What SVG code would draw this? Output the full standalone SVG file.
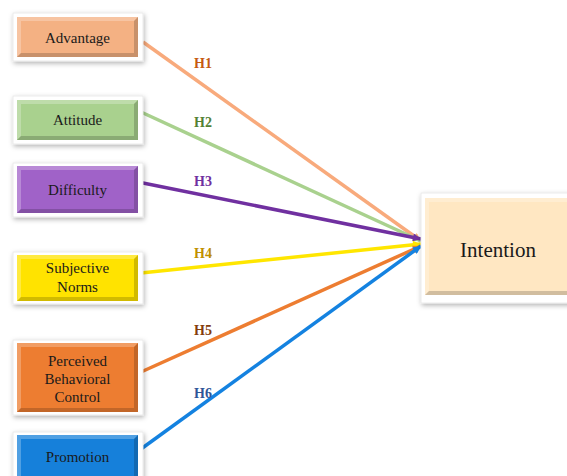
<svg xmlns="http://www.w3.org/2000/svg" width="567" height="476" viewBox="0 0 567 476">
<defs>
<filter id="sh" x="-20%" y="-20%" width="140%" height="150%">
<feDropShadow dx="1" dy="2" stdDeviation="2.5" flood-color="#000" flood-opacity="0.3"/>
</filter>
<marker id="m1" viewBox="0 0 10 10" refX="10" refY="5" markerWidth="9" markerHeight="8" markerUnits="userSpaceOnUse" orient="auto"><path d="M0,0L10,5L0,10z" fill="#F8AA7C"/></marker>
<marker id="m2" viewBox="0 0 10 10" refX="10" refY="5" markerWidth="9" markerHeight="8" markerUnits="userSpaceOnUse" orient="auto"><path d="M0,0L10,5L0,10z" fill="#A9D18E"/></marker>
<marker id="m3" viewBox="0 0 10 10" refX="10" refY="5" markerWidth="9" markerHeight="8" markerUnits="userSpaceOnUse" orient="auto"><path d="M0,0L10,5L0,10z" fill="#7030A0"/></marker>
<marker id="m4" viewBox="0 0 10 10" refX="10" refY="5" markerWidth="9" markerHeight="8" markerUnits="userSpaceOnUse" orient="auto"><path d="M0,0L10,5L0,10z" fill="#FFE600"/></marker>
<marker id="m5" viewBox="0 0 10 10" refX="10" refY="5" markerWidth="9" markerHeight="8" markerUnits="userSpaceOnUse" orient="auto"><path d="M0,0L10,5L0,10z" fill="#ED7D31"/></marker>
<marker id="m6" viewBox="0 0 10 10" refX="10" refY="5" markerWidth="9" markerHeight="8" markerUnits="userSpaceOnUse" orient="auto"><path d="M0,0L10,5L0,10z" fill="#1482E0"/></marker>
</defs>
<style>
.frame{fill:#fff;stroke:#e6e6e6;stroke-width:0.8;filter:url(#sh)}
.hi{fill:#fff;fill-opacity:0.25}
.lo{fill:#000;fill-opacity:0.18}
.t{font-family:"Liberation Serif","Times New Roman",serif;font-size:15px;fill:#1a1a1a;text-anchor:middle}
.ti{font-family:"Liberation Serif","Times New Roman",serif;font-size:21px;fill:#1a1a1a;text-anchor:middle}
.h{font-family:"Liberation Serif","Times New Roman",serif;font-size:14px;font-weight:bold}
.c{fill:none;stroke-width:3.5}
</style>

<g id="connectors">
<line class="c" x1="143" y1="42" x2="421" y2="241" stroke="#F8AA7C" marker-end="url(#m1)"/>
<line class="c" x1="141" y1="112" x2="421" y2="241" stroke="#A9D18E" marker-end="url(#m2)"/>
<line class="c" x1="138" y1="182" x2="421" y2="239" stroke="#7030A0" marker-end="url(#m3)"/>
<line class="c" x1="141" y1="273" x2="421" y2="244" stroke="#FFE600" marker-end="url(#m4)"/>
<line class="c" x1="141" y1="372" x2="421" y2="246" stroke="#ED7D31" marker-end="url(#m5)"/>
<line class="c" x1="141" y1="449" x2="421" y2="246" stroke="#1482E0" marker-end="url(#m6)"/>
<text class="h" x="194" y="68" fill="#C55A11">H1</text>
<text class="h" x="194" y="127" fill="#538135">H2</text>
<text class="h" x="194" y="186" fill="#7030A0">H3</text>
<text class="h" x="194" y="258" fill="#BF9000">H4</text>
<text class="h" x="194" y="335" fill="#843C0C">H5</text>
<text class="h" x="194" y="398" fill="#2E5597">H6</text>
</g>

<g id="advantage">
<rect class="frame" x="13" y="13" width="130" height="48"/>
<rect x="17" y="17" width="121" height="40" fill="#F4B183"/>
<path class="hi" d="M17,17H138L134,21H21V53L17,57Z"/>
<path class="lo" d="M138,17V57H17L21,53H134V21Z"/>
<text class="t" x="77.5" y="43">Advantage</text>
</g>

<g id="attitude">
<rect class="frame" x="13" y="96" width="130" height="48"/>
<rect x="17" y="100" width="121" height="40" fill="#A9D18E"/>
<path class="hi" d="M17,100H138L134,104H21V136L17,140Z"/>
<path class="lo" d="M138,100V140H17L21,136H134V104Z"/>
<text class="t" x="77.5" y="125">Attitude</text>
</g>

<g id="difficulty">
<rect class="frame" x="13" y="163" width="130" height="54"/>
<rect x="17" y="166" width="121" height="47" fill="#A062C8"/>
<path class="hi" d="M17,166H138L134,170H21V209L17,213Z"/>
<path class="lo" d="M138,166V213H17L21,209H134V170Z"/>
<text class="t" x="77.5" y="195">Difficulty</text>
</g>

<g id="subjective-norms">
<rect class="frame" x="13" y="252" width="130" height="52"/>
<rect x="17" y="255" width="121" height="46" fill="#FFE300"/>
<path class="hi" d="M17,255H138L134,259H21V297L17,301Z"/>
<path class="lo" d="M138,255V301H17L21,297H134V259Z"/>
<text class="t" x="77.5" y="273">Subjective</text>
<text class="t" x="77.5" y="292">Norms</text>
</g>

<g id="perceived-behavioral-control">
<rect class="frame" x="13" y="340" width="130" height="75"/>
<rect x="17" y="343" width="121" height="69" fill="#ED7D31"/>
<path class="hi" d="M17,343H138L134,347H21V408L17,412Z"/>
<path class="lo" d="M138,343V412H17L21,408H134V347Z"/>
<text class="t" x="77.5" y="366">Perceived</text>
<text class="t" x="77.5" y="384">Behavioral</text>
<text class="t" x="77.5" y="402">Control</text>
</g>

<g id="promotion">
<rect class="frame" x="13" y="432" width="130" height="50"/>
<rect x="17" y="435" width="121" height="46" fill="#1680DA"/>
<path class="hi" d="M17,435H138L134,439H21V477L17,481Z"/>
<path class="lo" d="M138,435V481H17L21,477H134V439Z"/>
<text class="t" x="77.5" y="462">Promotion</text>
</g>

<g id="intention">
<rect class="frame" x="421" y="193" width="160" height="110"/>
<rect x="425" y="198" width="160" height="97" fill="#FFE7C2"/>
<path class="hi" d="M425,198H585L581,202H429V291L425,295Z"/>
<path class="lo" d="M425,295L429,291H581V295Z"/>
<text class="ti" x="498" y="257">Intention</text>
</g>
</svg>
